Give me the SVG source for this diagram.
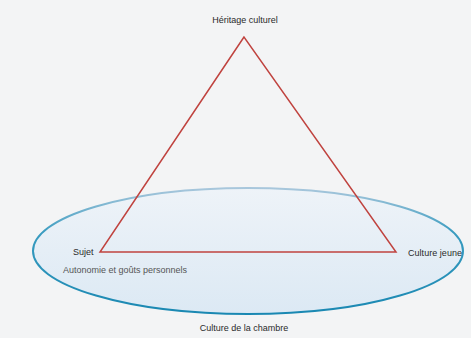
<svg xmlns="http://www.w3.org/2000/svg" width="471" height="338" viewBox="0 0 471 338">
  <defs>
    <linearGradient id="ellFill" x1="0" y1="0" x2="0" y2="1">
      <stop offset="0" stop-color="#eef3f8"/>
      <stop offset="1" stop-color="#dce9f4"/>
    </linearGradient>
    <linearGradient id="ellStroke" x1="0" y1="0" x2="0" y2="1">
      <stop offset="0" stop-color="#a9c7dc"/>
      <stop offset="0.35" stop-color="#3a9cc0"/>
      <stop offset="1" stop-color="#1a88b2"/>
    </linearGradient>
    <style>
      .lbl { font-family: "Liberation Sans", Arial, sans-serif; font-size: 9px; fill: #2a2a2a; }
      .sub { font-family: "Liberation Sans", Arial, sans-serif; font-size: 9px; fill: #555; }
      .tri { fill: none; stroke: #c0433f; stroke-width: 1.5; stroke-linejoin: miter; }
      .ell { fill: url(#ellFill); stroke: url(#ellStroke); stroke-width: 2; }
    </style>
  </defs>
  <rect width="471" height="338" fill="#f3f4f5"/>
  <g id="connectors">
    <ellipse id="chambre-ellipse" class="ell" cx="248" cy="251" rx="215" ry="63"/>
    <polygon id="triangle" class="tri" points="244,37 100,252 396,252"/>
  </g>
  <g id="heritage">
    <text class="lbl" x="245" y="23" text-anchor="middle">Héritage culturel</text>
  </g>
  <g id="sujet">
    <text class="lbl" x="73" y="255">Sujet</text>
    <text class="sub" x="63" y="273">Autonomie et goûts personnels</text>
  </g>
  <g id="culture-jeune">
    <text class="lbl" x="408" y="256" textLength="54">Culture jeune</text>
  </g>
  <g id="culture-chambre">
    <text class="lbl" x="244" y="331" text-anchor="middle">Culture de la chambre</text>
  </g>
</svg>
